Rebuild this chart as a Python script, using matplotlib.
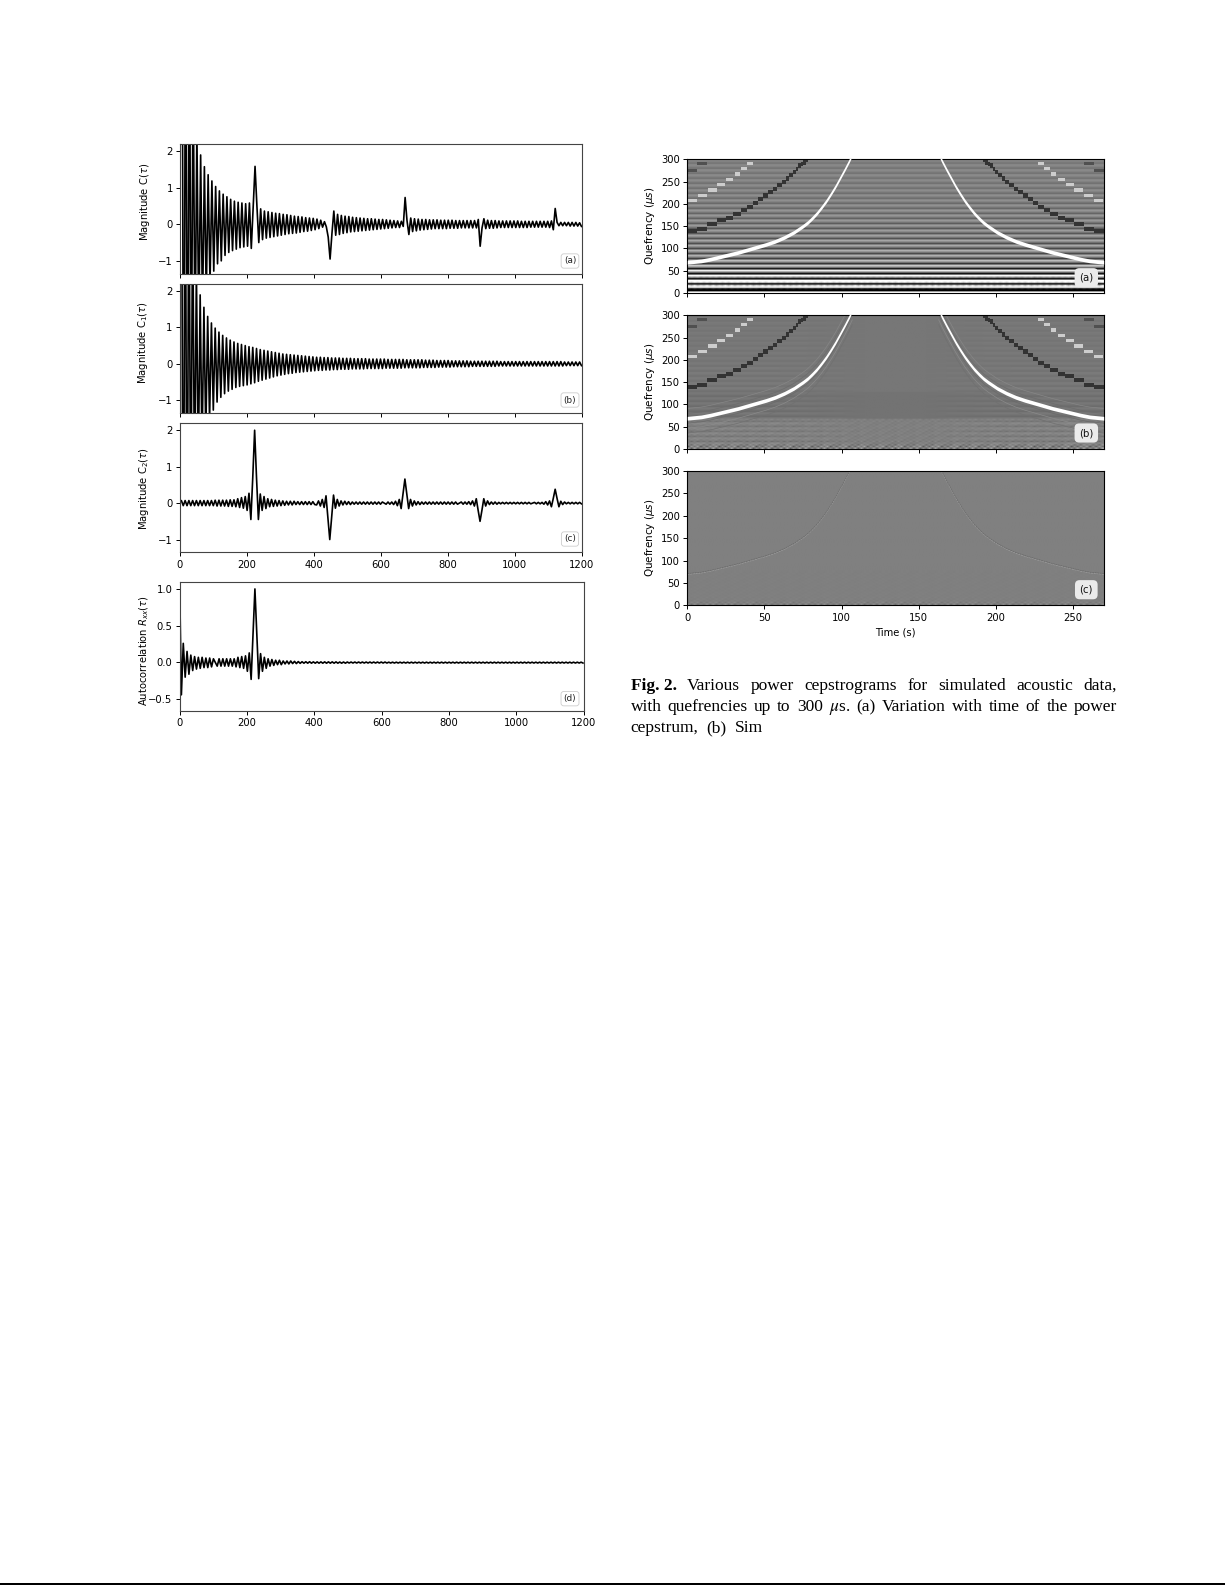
import numpy as np
import matplotlib
matplotlib.use("Agg")
import matplotlib.pyplot as plt
from matplotlib.patches import Rectangle

W, H = 1225, 1585

# ---- line panels: successive extrema of each trace
half_period = 5.6
sig_a = [9,9,-9,8,-7,6,-5,4.5,-3.6,2.6,
 -2.9,1.89,-2.4,1.57,-2.0,1.35,-1.6,1.18,-1.28,1.03,
 -1.08,.91,-1.0,.82,-.85,.75,-.77,.68,-.72,.63,
 -.68,.6,-.64,.58,-.62,.56,-.6,.58,-.66,.45,
 1.58,.5,-.5,.42,-.42,.36,-.38,.34,-.36,.32,
 -.34,.3,-.32,.29,-.3,.27,-.28,.26,-.26,.24,
 -.25,.22,-.24,.21,-.22,.2,-.2,.18,-.19,.17,
 -.17,.16,-.15,.14,-.12,.11,-.08,.07,-.07,-.35,
 -.95,-.25,.36,-.3,.27,-.28,.24,-.25,.22,-.23,
 .21,-.21,.19,-.2,.18,-.19,.17,-.18,.16,-.17,
 .15,-.16,.15,-.15,.14,-.14,.13,-.13,.13,-.12,
 .12,-.11,.11,-.1,.1,-.09,.09,-.09,.08,-.06,
 .73,.1,-.28,.17,-.2,.15,-.18,.14,-.16,.13,
 -.15,.13,-.14,.12,-.13,.12,-.12,.12,-.12,.11,
 -.12,.11,-.12,.11,-.11,.11,-.11,.1,-.11,.1,
 -.1,.1,-.1,.1,-.1,.1,-.1,.1,-.1,.13,
 -.6,-.1,.15,-.12,.11,-.11,.1,-.11,.1,-.1,
 .09,-.09,.09,-.09,.09,-.09,.09,-.09,.09,-.09,
 .09,-.09,.08,-.09,.08,-.09,.08,-.08,.08,-.08,
 .08,-.08,.08,-.08,.08,-.08,.08,-.09,.09,-.15,
 .43,.05,-.04,.05,-.04,.05,-.04,.05,-.05,.05,
 -.05,.05,-.05,.04,-.06]
sig_b = [9,9,-9,8,-7,6,-5,4.5,-3.6,2.6,
 -2.9,1.89,-2.4,1.55,-1.95,1.3,-1.55,1.12,-1.27,.98,
 -1.05,.87,-.92,.78,-.82,.71,-.75,.65,-.7,.6,
 -.65,.56,-.62,.53,-.6,.5,-.58,.47,-.55,.45,
 -.52,.42,-.48,.39,-.45,.37,-.42,.35,-.39,.33,
 -.36,.31,-.33,.29,-.31,.27,-.29,.26,-.27,.25,
 -.26,.24,-.24,.23,-.23,.22,-.22,.21,-.21,.2,
 -.2,.19,-.19,.18,-.18,.18,-.18,.17,-.17,.17,
 -.17,.16,-.16,.16,-.16,.16,-.15,.15,-.15,.15,
 -.15,.15,-.14,.14,-.14,.14,-.14,.14,-.14,.14,
 -.13,.13,-.13,.13,-.13,.13,-.13,.13,-.13,.13,
 -.12,.12,-.12,.12,-.12,.12,-.12,.12,-.12,.12,
 -.11,.11,-.11,.11,-.11,.11,-.11,.11,-.11,.11,
 -.1,.1,-.1,.1,-.1,.1,-.1,.09,-.09,.09,
 -.09,.09,-.09,.09,-.09,.08,-.08,.08,-.08,.08,
 -.08,.08,-.08,.08,-.08,.07,-.07,.07,-.07,.07,
 -.07,.07,-.07,.07,-.07,.07,-.07,.07,-.07,.07,
 -.06,.06,-.06,.06,-.06,.06,-.06,.06,-.06,.06,
 -.06,.06,-.06,.06,-.06,.06,-.06,.06,-.06,.06,
 -.06,.06,-.06,.06,-.06,.06,-.06,.06,-.06,.06,
 -.06,.06,-.06,.06,-.06,.05,-.05,.05,-.05,.05,
 -.05,.05,-.05,.05,-.05]
sig_c = [.04,.07,-.07,.07,-.07,.07,-.07,.07,-.07,.07,
 -.07,.07,-.07,.07,-.07,.07,-.07,.07,-.07,.08,
 -.08,.08,-.08,.08,-.08,.08,-.09,.09,-.09,.09,
 -.1,.12,-.12,.15,-.14,.18,-.2,.27,-.45,.7,
 2.0,.7,-.45,.25,-.2,.18,-.15,.12,-.1,.1,
 -.09,.08,-.08,.07,-.07,.06,-.06,.05,-.05,.05,
 -.05,.05,-.04,.04,-.04,.04,-.04,.04,-.04,.04,
 -.04,.04,-.04,-.05,.06,-.08,.1,-.12,.2,-.4,
 -1.0,-.4,.22,-.14,.1,-.08,.06,-.05,.05,-.04,
 .04,-.04,.03,-.03,.03,-.03,.03,-.03,.03,-.03,
 .03,-.03,.03,-.03,.03,-.03,.03,-.03,.03,0,
 -.03,.03,-.03,.03,-.04,.05,-.07,.1,-.15,.25,
 .66,.25,-.15,.1,-.08,.06,-.05,.04,-.04,.03,
 -.03,.03,-.03,.03,-.03,.03,-.03,.03,-.03,.03,
 -.03,.03,-.03,.03,-.03,.03,-.03,.03,-.03,0,
 .03,-.03,.03,-.03,.04,-.04,.06,-.08,.12,-.2,
 -.5,-.2,.12,-.08,.06,-.04,.03,-.03,.03,-.03,
 .02,-.02,.02,-.02,.02,-.02,.02,-.02,.02,-.02,
 .02,-.02,.02,-.02,.02,-.02,.02,-.02,0,.02,
 -.02,.02,-.02,.02,-.03,.04,-.05,.06,-.1,.13,
 .38,.13,-.1,.05,-.04,.03,-.02,.02,-.02,.02,
 -.02,.02,-.02,.02,-.02]
sig_d = [1.2,-.44,.26,-.2,.15,-.16,.1,-.11,.08,-.09,
 .07,-.08,.07,-.07,.06,-.07,.06,-.06,.05,0,
 -.05,.05,-.05,.05,-.05,.05,-.05,.05,-.05,.05,
 -.06,.07,-.07,.08,-.08,.09,-.12,.13,-.23,.4,
 1.0,.4,-.22,.12,-.12,.07,-.08,.05,-.05,.04,
 -.04,.03,-.03,.03,-.03,.02,-.02,.02,-.02,.02,
 -.015,.015,-.015,.012,-.012,.01,-.01,.01,-.01,.01,
 -.01,.008,-.01,.008,-.01,.008,-.01,.008,-.01,.008,
 -.01,.008,-.01,.008,-.01,.006,-.01,.006,-.01,.006,
 -.008,.006,-.008,.006,-.008,.006,-.008,.006,-.008,.006,
 -.008,.006,-.008,.006,-.008,.006,-.008,.006,-.008,.006,
 -.008,.004,-.008,.004,-.008,.004,-.008,.004,-.008,.004,
 -.008,.004,-.008,.004,-.008,.004,-.008,.004,-.008,.004,
 -.008,.004,-.008,.004,-.008,.004,-.008,.004,-.008,.004,
 -.008,.004,-.008,.004,-.008,.004,-.008,.004,-.008,.004,
 -.008,.004,-.008,.004,-.008,.004,-.008,.004,-.008,.004,
 -.008,.004,-.008,.004,-.008,.004,-.008,.004,-.008,.004,
 -.008,.004,-.008,.004,-.008,.004,-.008,.004,-.008,.004,
 -.008,.004,-.008,.004,-.008,.004,-.008,.004,-.008,.004,
 -.008,.004,-.008,.004,-.008,.004,-.008,.004,-.008,.004,
 -.008,.004,-.008,.004,-.008,.004,-.008,.004,-.008,.004,
 -.008,.004,-.008,.004,-.008]

# ---- cepstrogram curves (left half; the right half mirrors about the time span)
white_t = [0,3,9,15,21,27,33,39,45,51,57,63,69,75,78,81,84,87,90,93,96,99,102,105,107]
white_q = [69,70,72,76,81,86,91,97,103,109,116,125,136,150,158,168,179,192,206,222,239,258,277,297,312]
dark_t0 = [0,6.5,13,19.4,25,29.8,34.6,38.9,42.3,46,49.3,52.5,55.8,58.4,61.2,63.7,66.1,68.3,70.2,72,73.7,75.2,77]
dark_t1 = [6.5,13,19.4,25,29.8,34.6,38.9,42.3,46,49.3,52.5,55.8,58.4,61.2,63.7,66.1,68.3,70.2,72,73.7,75.2,77,78.5]
dark_q = [139,143,154,163,168,178,187,193,202,211,219,227,234,242,249,257,264,272,279,286,290,293,299]
light_t0 = [0.6,7,13.6,19.4,25,30.9,34.6,38.9]
light_t1 = [6,12.5,19,24.4,29.8,34,38.5,42.3]
light_q = [207,219,231,243,255,267,279,290]
top_t0 = [0,6.5]
top_t1 = [6,13]
top_q = [275,290]

# row profile of panel (a), 3.75 us per row from quefrency 0 upward
rows_a = [1.5,-1.5,-.9,1.5,.6,-1.5,.9,1.4,-1.4,.3,1.2,-1.2,.1,.9,-.9,.2,.6,-.65,.12,.5,
 -.55,.08,.42,-.45,.08,.4,-.45,.04,.36,-.4,.04,.34,-.36,.08,.3,-.32,.04,.27,-.3,.04,
 .25,-.27,.04,.23,-.24,.04,.22,-.22,.04,.2,-.2,.02,.18,-.18,.02,.16,-.16,.02,.15,-.15,
 .02,.14,-.14,.02,.13,-.13,.02,.12,-.12,.02,.12,-.12,.02,.11,-.11,.02,.1,-.1,.02,.1]
# mean level of panel (b) by row
rows_b = [0,0,0,0,0,0,0,0,0,0,0,0,0,0,0,0,0,0,-.1,-.1,
 -.1,-.1,-.1,-.1,-.1,-.1,-.1,-.1,-.1,-.1,-.1,-.1,-.1,-.1,-.07,-.07,-.07,-.07,-.07,-.07,
 -.07,-.07,-.07,-.07,-.07,-.07,-.07,-.07,-.07,-.07,-.07,-.07,-.07,-.07,-.07,-.07,-.07,-.07,-.07,-.07,
 -.07,-.07,-.07,-.07,-.07,-.07,-.07,-.07,-.07,-.07,-.07,-.07,-.07,-.07,-.07,-.07,-.07,-.07,-.07,-.07]
# stripe strength at the two sides of panel (b), per row
stripes_b = [.03,-.03,.02,.07,-.07,.02,.07,-.07,.02,.07,-.07,.02,.07,-.07,.02,.07,-.07,.02,.06,-.06,
 .01,.06,-.06,.01,.06,-.06,.01,.05,-.05,.01,.05,-.05,.01,.05,-.05,.01,.05,-.05,.01,.04,
 -.04,.01,.04,-.04,.01,.04,-.04,.01,.04,-.04,.01,.03,-.03,.01,.03,-.03,.01,.03,-.03,.01,
 .03,-.03,.01,.03,-.03,.01,.03,-.03,.01,.03,-.03,.01,.03,-.03,.01,.03,-.03,.01,.03,-.03]
side_weight = [1,1,1,1,1,1,1,1,1,1,.9,.9,.8,.7,.6,.5,.4,.2,.1,0,0,0,0,
               0,0,0,.1,.2,.4,.5,.6,.7,.8,.9,.9,1,1,1,1,1,1,1,1,1,1]
texture_tile = [[1,-1,1,-1,.4,-.6],[-.7,.8,-.3,1,-1,.5],[.5,-1,.9,-.4,.7,-.9],[-1,.4,-.8,.9,-.3,1]]
texture_a = [.1,.1,.1,.5,.2,.1,.15,.15,.1,.1,.1,.1,0,0,0,0,0,0,0,0]
texture_b = [.3,.3,.2,.1,.08,.07,.06,.06,.06,.06,.06,.06,.05,.05,.05,.05,.05,.05,0,0]
texture_c = [.12,.09,.04,.03,.02,.015,.015,.015,.015,.015,.015,.012,.012,.012,.012,.012,.012,.012,.012,.012]

x_ticks_left = [0,200,400,600,800,1000,1200]
x_ticks_right = [0,50,100,150,200,250]
y_ticks_right = [0,50,100,150,200,250,300]
y_ticks_mag = [-1,0,1,2]
y_ticks_auto = [-0.5,0.0,0.5,1.0]

plt.rcParams.update({"font.family":"DejaVu Sans","font.size":7,"mathtext.fontset":"dejavusans",
                     "axes.linewidth":0.8,"axes.edgecolor":"#444444",
                     "xtick.major.size":2.6,"ytick.major.size":2.6,
                     "xtick.major.width":0.7,"ytick.major.width":0.7,
                     "xtick.major.pad":2.6,"ytick.major.pad":2.6,
                     "xtick.labelsize":7.2,"ytick.labelsize":7.2,"axes.labelsize":7.2})
fig = plt.figure(figsize=(W/100,H/100),dpi=100)
fig.patch.set_facecolor("white")

def px_axes(l,t,r,b):
    return fig.add_axes([l/W,1-b/H,(r-l)/W,(b-t)/H])

def tag(ax,cx,cy,s,right=False):
    if right:
        bb=dict(boxstyle="round,pad=0.45",fc="#ebebeb",ec="none")
        fig.text(cx/W,1-cy/H,s,ha="center",va="center",fontsize=7.3,bbox=bb,color="#111111",zorder=9)
    else:
        bb=dict(boxstyle="round,pad=0.3",fc="white",ec="#cccccc",lw=0.6)
        fig.text(cx/W,1-cy/H,s,ha="center",va="center",fontsize=6.4,bbox=bb,color="#222222",zorder=9)

left_specs = [
 (sig_a,(180,144,582,273.7),(-1.35,2.19),y_ticks_mag,r"Magnitude C($\tau$)","(a)",261,152,202,False),
 (sig_b,(179.5,284,582,413),(-1.35,2.19),y_ticks_mag,r"Magnitude C$_1$($\tau$)","(b)",400,150,343,False),
 (sig_c,(179.5,423.3,582,552.3),(-1.35,2.19),y_ticks_mag,r"Magnitude C$_2$($\tau$)","(c)",539,151,488.7,True),
 (sig_d,(179.5,582.3,583.5,711),(-0.66,1.09),y_ticks_auto,r"Autocorrelation $R_{xx}(\tau)$","(d)",698.7,151,651,True),
]
for sig,box,yl,yt,lab,tg,ty,lx,ly,showx in left_specs:
    ax = px_axes(*box)
    y = np.array(sig,float)
    x = np.arange(len(y))*half_period
    ax.plot(x,y,color="black",lw=1.2,solid_joinstyle="round")
    ax.set_xlim(0,1200); ax.set_ylim(*yl)
    ax.set_xticks(x_ticks_left); ax.set_yticks(yt)
    if not showx: ax.set_xticklabels([])
    ax.set_ylabel(lab)
    ax.yaxis.set_label_coords((lx-box[0])/(box[2]-box[0]),(box[3]-ly)/(box[3]-box[1]))
    tag(ax,570,ty,tg)

# ---- cepstrograms
def texture(amps,nrows,ncols):
    t=np.array(texture_tile,float)
    tex=np.tile(t,(nrows//t.shape[0]+1,ncols//t.shape[1]+1))[:nrows,:ncols]
    a=np.zeros(nrows); a[:len(amps)]=amps
    return tex*a[:,None]

ncols=135; nrows=80
img_a=np.array(rows_a)[:,None]*np.ones((nrows,ncols))+texture(texture_a,nrows,ncols)
wt=np.repeat(side_weight,3)
img_b=np.array(rows_b)[:,None]*np.ones((nrows,ncols))+np.outer(stripes_b,wt)+texture(texture_b,nrows,ncols)
img_c=texture(texture_c,nrows,ncols)

def curves(ax,halfw=4.2):
    wt_=np.array(white_t,float); wq=np.array(white_q,float)
    for tt in (wt_,270-wt_):
        ax.fill_between(tt,wq-halfw,wq+halfw,color="white",lw=0,zorder=3)
    def blocks(t0,t1,q,h,col):
        t0=np.array(t0,float);t1=np.array(t1,float);q=np.array(q,float)
        ax.barh(q,t1-t0,left=t0,height=h,color=col,lw=0,zorder=2)
        ax.barh(q,t1-t0,left=270-t1,height=h,color=col,lw=0,zorder=2)
    blocks(dark_t0,dark_t1,dark_q,9.5,"#333333")
    blocks(light_t0,light_t1,light_q,7.5,"#cdcdcd")
    blocks(top_t0,top_t1,top_q,7,"#505050")

right_specs=[(img_a,(687.3,159.3,1103.7,293),"(a)",277.7,False),
             (img_b,(687.3,315.3,1103.7,449),"(b)",433,False),
             (img_c,(687.3,471,1104,605.3),"(c)",589.7,True)]
for img,box,tg,ty,last in right_specs:
    ax=px_axes(*box)
    ax.imshow(img,origin="lower",extent=[0,270,0,300],aspect="auto",cmap="gray",vmin=-1,vmax=1,
              interpolation="bilinear",zorder=1)
    wt_=np.array(white_t,float); wq=np.array(white_q,float)
    if tg in("(a)","(b)"):
        curves(ax)
    if tg=="(b)":
        for off,col in [(-11,"#6a6a6a"),(-22,"#8a8a8a"),(-33,"#707070"),(11,"#6c6c6c"),(22,"#868686")]:
            for tt in (wt_,270-wt_):
                ax.plot(tt,wq+off,color=col,lw=0.5,zorder=2)
    if tg=="(c)":
        for tt in (wt_,270-wt_):
            ax.plot(tt,wq,color="#9c9c9c",lw=0.5,zorder=2,ls=(0,(3,1)))
            ax.plot(tt,wq+2,color="#686868",lw=0.45,zorder=2,ls=(0,(3,1)))
    ax.set_xlim(0,270); ax.set_ylim(0,300)
    ax.set_xticks(x_ticks_right); ax.set_yticks(y_ticks_right)
    if not last: ax.set_xticklabels([])
    for s in ax.spines.values(): s.set_color("black")
    ax.set_ylabel(r"Quefrency ($\mu s$)",fontsize=7.5)
    ax.yaxis.set_label_coords((657-box[0])/(box[2]-box[0]),0.5)
    if last:
        ax.set_xlabel("Time (s)",fontsize=7.2)
        ax.xaxis.set_label_coords(0.5,-0.165)
    tag(ax,1086.3,ty,tg,right=True)

# ---- caption
serif="Liberation Serif"
fs=12.5
renderer=fig.canvas.get_renderer()
def justified(tokens,y,x0=630.7,x1=1117,justify=True):
    texts=[]
    for s,w in tokens:
        texts.append(fig.text(0,1-y/H,s,family=serif,fontsize=fs,fontweight=w,va="baseline",ha="left",color="black",math_fontfamily="stix"))
    widths=[t.get_window_extent(renderer).width for t in texts]
    gap=(x1-x0-sum(widths))/(len(tokens)-1) if justify else 8
    x=x0
    for t,wd in zip(texts,widths):
        t.set_x(x/W); x+=wd+gap
justified([("Fig. 2.","bold")]+[(w,"normal") for w in "Various power cepstrograms for simulated acoustic data,".split()],690)
justified([(w,"normal") for w in "with quefrencies up to 300".split()]+[(r"$\mu$s.","normal")]+[(w,"normal") for w in "(a) Variation with time of the power".split()],711)
justified([(w,"normal") for w in "cepstrum, (b) Sim".split()],732,justify=False)

fig.add_artist(Rectangle((0,0),1,2/H,transform=fig.transFigure,fc="black",ec="none"))
fig.savefig("out.png",dpi=100)
